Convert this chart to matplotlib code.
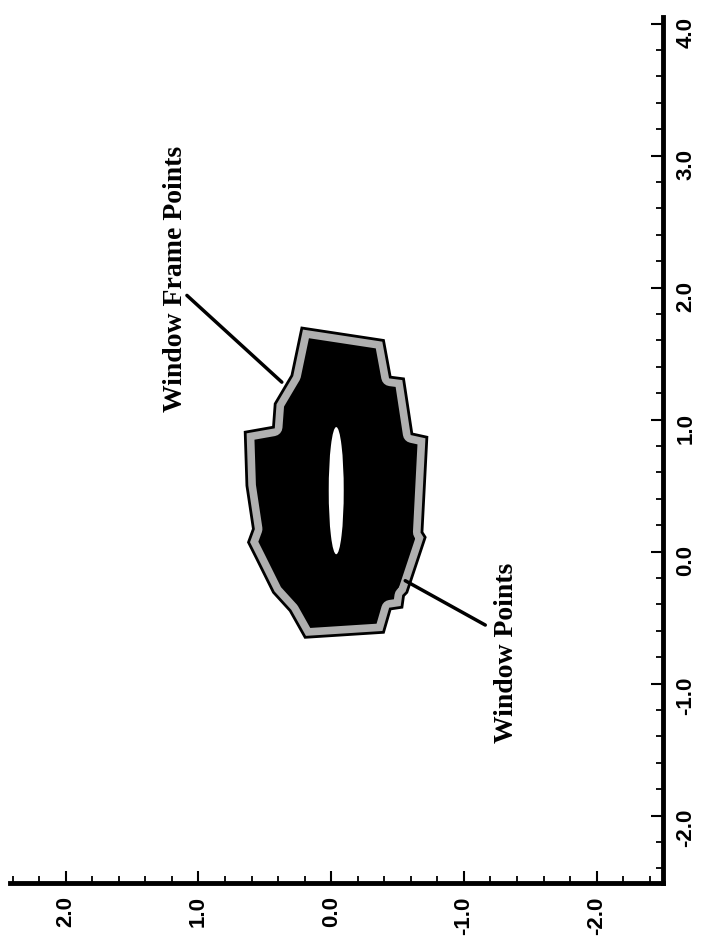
"""Rotated scan of a window-frame point cloud with two leader annotations."""

import matplotlib

matplotlib.use("Agg")
import matplotlib.pyplot as plt
from matplotlib.patches import Ellipse, Polygon
from matplotlib.ticker import MultipleLocator

# Outline of the frame point cloud: horizontal-axis value, vertical-axis value
frame_h = [0.221, -0.394, -0.445, -0.545, -0.608, -0.721, -0.684, -0.708,
           -0.570, -0.545, -0.533, -0.445, -0.394, 0.196, 0.309, 0.435,
           0.560, 0.623, 0.586, 0.635, 0.648, 0.435, 0.422, 0.296]
frame_v = [1.694, 1.600, 1.322, 1.309, 0.892, 0.867, 0.147, 0.109,
           -0.308, -0.334, -0.421, -0.434, -0.611, -0.649, -0.447, -0.308,
           -0.055, 0.071, 0.172, 0.500, 0.905, 0.943, 1.120, 1.334]

# Empty window opening in the middle (centre h, centre v) and extent
window_center = (-0.038, 0.462)
window_extent = (0.113, 0.963)

# Leader lines: (text end, shape end)
frame_leader = [(1.087, 1.941), (0.372, 1.284)]
window_leader = [(-1.161, -0.556), (-0.558, -0.220)]

frame_label = "Window Frame Points"
window_label = "Window Points"

h_ticks = [2.0, 1.0, 0.0, -1.0, -2.0]
v_ticks = [-2.0, -1.0, 0.0, 1.0, 2.0, 3.0, 4.0]

plt.rcParams["font.family"] = ["Liberation Sans", "DejaVu Sans"]

fig = plt.figure(figsize=(7.02, 9.45), dpi=100, facecolor="white")
ax = fig.add_axes([10 / 702, 61 / 945, 653 / 702, 866 / 945])
ax.set_xlim(2.42, -2.50)
ax.set_ylim(-2.51, 4.05)

# Point cloud: black body, grey rim band, thin black outline
pts = list(zip(frame_h, frame_v))
body = Polygon(pts, closed=True, facecolor="black", edgecolor="#b0b0b0",
               lw=13, joinstyle="round", zorder=2)
ax.add_patch(body)
body.set_clip_path(Polygon(pts, closed=True, transform=ax.transData))
ax.add_patch(Polygon(pts, closed=True, facecolor="none", edgecolor="black",
                     lw=2, zorder=3))
ax.add_patch(Ellipse(window_center, window_extent[0], window_extent[1],
                     facecolor="white", edgecolor="none", zorder=4))

# Leaders and labels
for (tail, tip) in (frame_leader, window_leader):
    ax.annotate("", xy=tip, xytext=tail,
                arrowprops=dict(arrowstyle="-", lw=2.5, color="black",
                                shrinkA=0, shrinkB=0), zorder=5)

text_style = dict(rotation=90, rotation_mode="anchor", ha="center",
                  va="baseline", fontsize=20, fontweight="bold",
                  family=["Liberation Serif", "DejaVu Serif"])
ax.text(1.123, 2.074, frame_label, **text_style)
ax.text(-1.372, -0.763, window_label, **text_style)

# Axes: only bottom and right, ticks inward
for side in ("top", "left"):
    ax.spines[side].set_visible(False)
for side in ("bottom", "right"):
    ax.spines[side].set_linewidth(3.5)
    ax.spines[side].set_capstyle("projecting")

ax.yaxis.tick_right()
ax.set_xticks(h_ticks, [f"{t:.1f}" for t in h_ticks], fontweight="bold")
ax.set_yticks(v_ticks, [f"{t:.1f}" for t in v_ticks], fontweight="bold")
ax.xaxis.set_minor_locator(MultipleLocator(0.2))
ax.yaxis.set_minor_locator(MultipleLocator(0.2))
ax.tick_params(which="major", direction="in", length=9, width=1.5,
               labelsize=16, pad=9)
ax.tick_params(which="minor", direction="in", length=5, width=1.3)
ax.tick_params(axis="x", labelrotation=90)
ax.tick_params(axis="y", labelrotation=90, left=False, right=True)

fig.savefig("out.png", dpi=100, facecolor="white")
plt.close(fig)
